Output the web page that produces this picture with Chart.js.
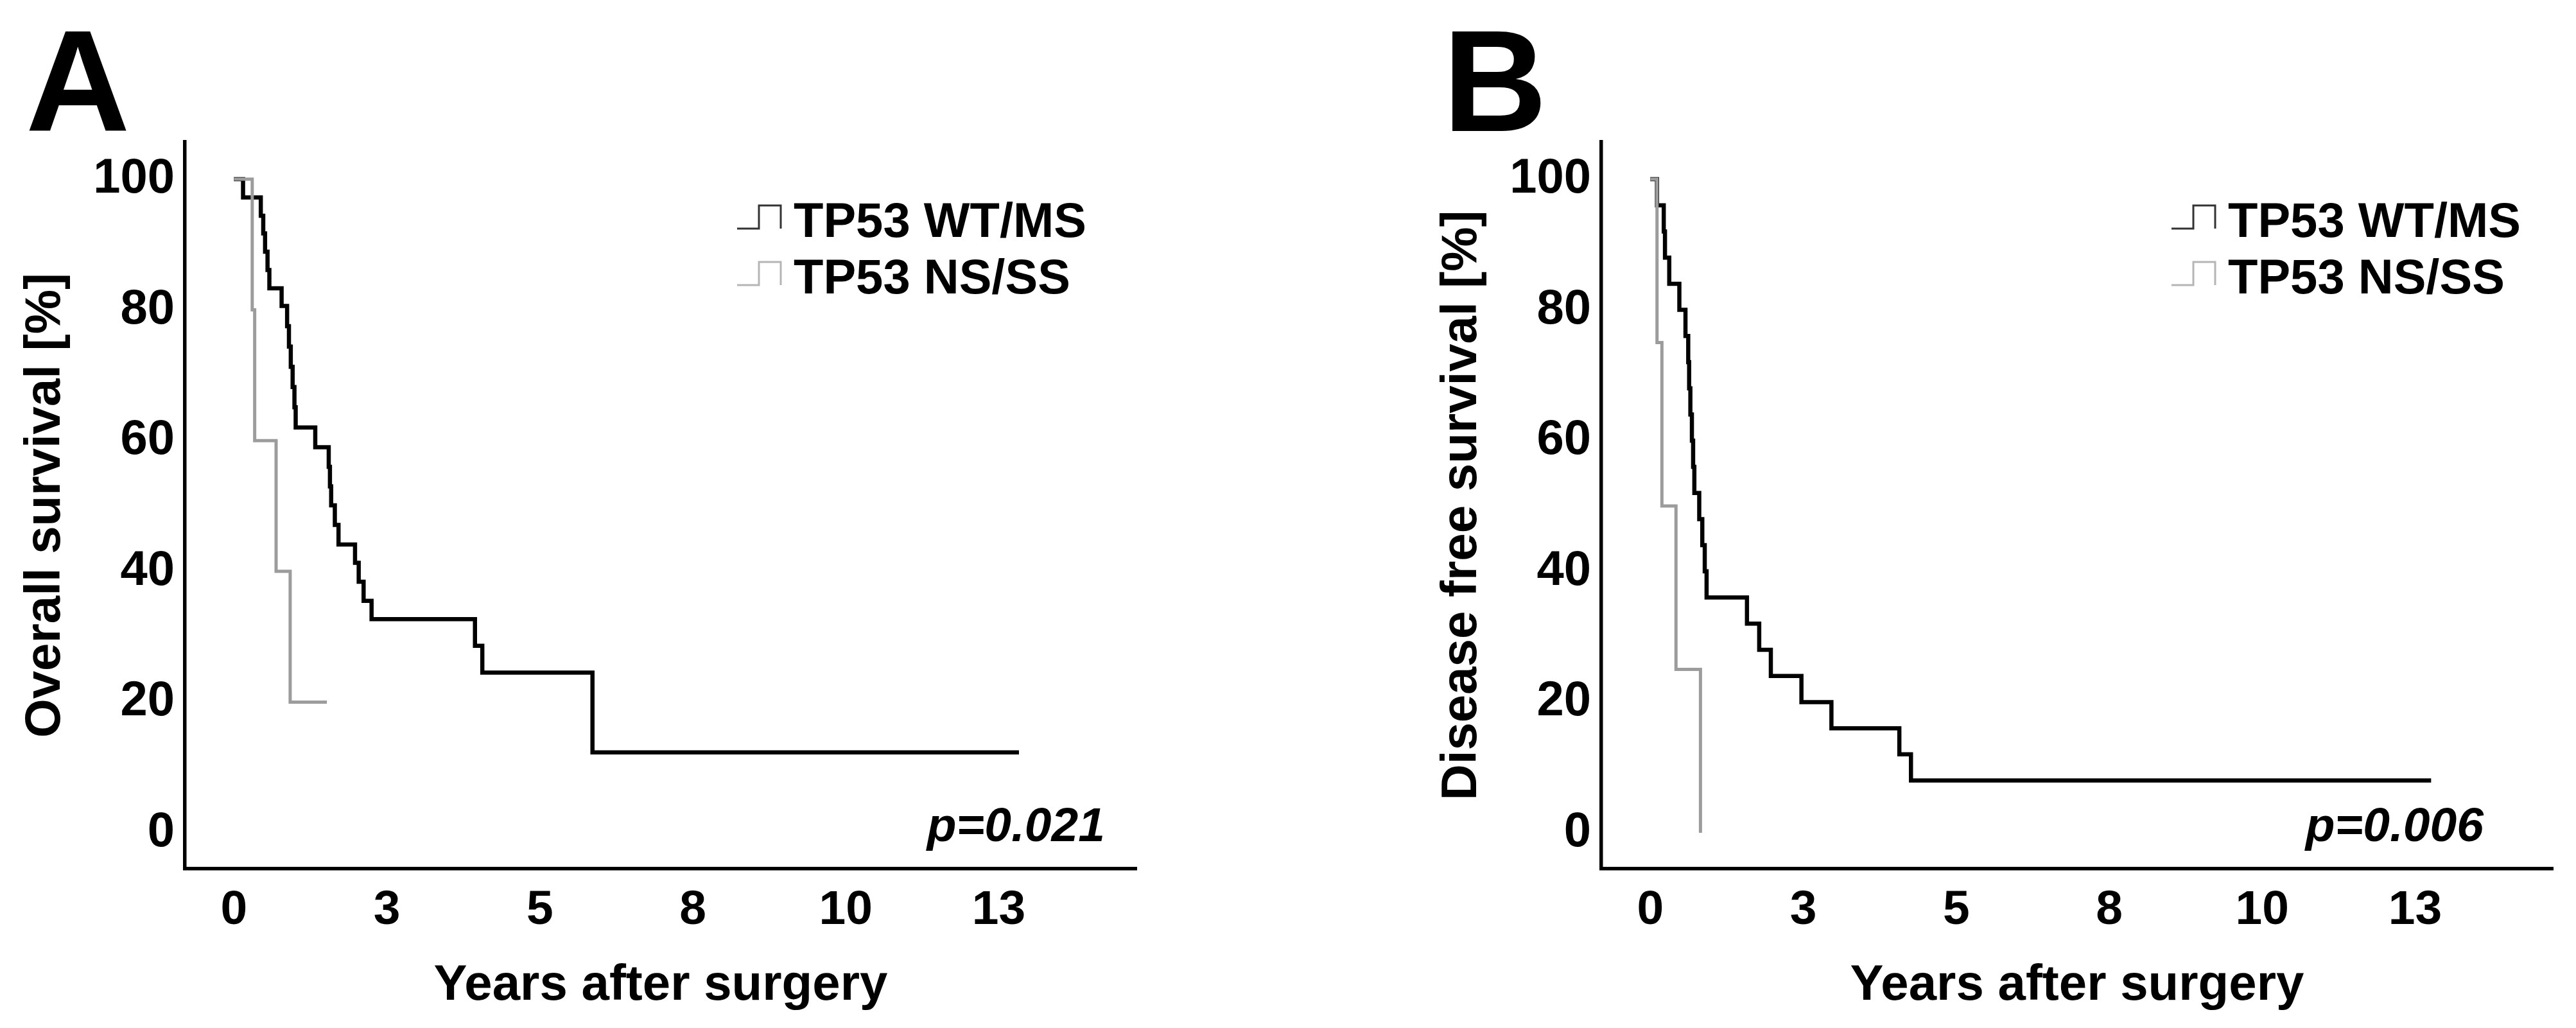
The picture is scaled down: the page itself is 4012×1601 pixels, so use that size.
<!DOCTYPE html>
<html>
<head>
<meta charset="utf-8">
<script src="https://cdn.jsdelivr.net/npm/chart.js@4.4.1/dist/chart.umd.min.js"></script>
<style>
  html, body { margin: 0; padding: 0; background: #fff; }
  body { width: 4012px; height: 1601px; position: relative; overflow: hidden; }
  .panel { position: absolute; top: 0; width: 1806px; height: 1601px; }
  #panelA { left: 0; }
  #panelB { left: 2206px; }
</style>
</head>
<body>
<div class="panel" id="panelA"><canvas id="chartA" width="1806" height="1601"></canvas></div>
<div class="panel" id="panelB"><canvas id="chartB" width="1806" height="1601"></canvas></div>
<script>
// Kaplan-Meier steps (years, % surviving)
const groupLabels = ['TP53 WT/MS', 'TP53 NS/SS'];

// A: overall survival
const osWtTime = [0, 0.15, 0.44, 0.48, 0.51, 0.55, 0.58, 0.78, 0.87, 0.90, 0.93, 0.96, 0.99, 1.01, 1.33, 1.55, 1.57, 1.59, 1.65, 1.71, 1.98, 2.04, 2.12, 2.25, 3.94, 4.06, 5.86, 12.83];
const osWtSurv = [100, 97.2, 94.4, 91.7, 88.9, 86.1, 83.3, 80.6, 77.5, 74.4, 71.3, 68.2, 65.1, 62.0, 59.0, 56.0, 53.0, 50.1, 47.1, 44.1, 41.3, 38.4, 35.5, 32.7, 28.6, 24.5, 12.3, 12.3];
const osNsTime = [0, 0.30, 0.34, 0.69, 0.92, 1.52];
const osNsSurv = [100, 80, 60, 40, 20, 20];

// B: disease free survival
const dfsWtTime = [0, 0.11, 0.22, 0.24, 0.31, 0.475, 0.575, 0.62, 0.635, 0.655, 0.68, 0.70, 0.72, 0.80, 0.85, 0.89, 0.92, 1.58, 1.78, 1.97, 2.47, 2.96, 4.07, 4.26, 12.76];
const dfsWtSurv = [100, 96, 92, 88, 84, 80, 76, 72, 68, 64, 60, 56, 52, 48, 44, 40, 36, 32, 28, 24, 20, 16, 12, 8, 8];
const dfsNsTime = [0, 0.11, 0.19, 0.42, 0.82];
const dfsNsSurv = [100, 75, 50, 25, 0];

// axes
const xTicks = [0, 2.5, 5, 7.5, 10, 12.5];
const xTickLabels = ['0', '3', '5', '8', '10', '13'];
const yTicks = [0, 20, 40, 60, 80, 100];

const FONT = "'Liberation Sans', Arial, sans-serif";

function zip(xs, ys) {
    return xs.map((x, i) => ({ x: x, y: ys[i] }));
}

// panel letter, step-shaped legend and p value
const panelDecor = {
    id: 'panelDecor',
    afterDraw(chart, args, opts) {
        const ctx = chart.ctx;
        ctx.save();
        ctx.fillStyle = '#000';
        ctx.textAlign = 'left';
        ctx.textBaseline = 'alphabetic';

        ctx.font = 'bold 225px ' + FONT;
        ctx.fillText(opts.letter, opts.letterX, 204);

        const rows = [369, 457];
        const symColors = ['#333333', '#b5b5b5'];
        groupLabels.forEach((lab, i) => {
            const base = rows[i];
            const sx = opts.legendX - 88;
            ctx.strokeStyle = symColors[i];
            ctx.lineWidth = 3;
            ctx.beginPath();
            ctx.moveTo(sx, base - 13);
            ctx.lineTo(sx + 34, base - 13);
            ctx.lineTo(sx + 34, base - 49);
            ctx.lineTo(sx + 68, base - 49);
            ctx.lineTo(sx + 68, base - 13);
            ctx.stroke();
            ctx.fillStyle = '#000';
            ctx.font = 'bold 76px ' + FONT;
            ctx.fillText(lab, opts.legendX, base);
        });

        ctx.textAlign = 'right';
        ctx.font = 'italic bold 75px ' + FONT;
        ctx.fillText(opts.pText, opts.pRight, 1310);
        ctx.restore();
    }
};

function makeChart(id, wt, ns, yTitle, decor) {
    return new Chart(document.getElementById(id), {
        type: 'line',
        data: {
            datasets: [
                {
                    label: groupLabels[0],
                    data: zip(wt[0], wt[1]),
                    borderColor: '#000000',
                    borderWidth: 6.5,
                    stepped: 'before',
                    pointRadius: 0,
                    fill: false,
                    order: 1
                },
                {
                    label: groupLabels[1],
                    data: zip(ns[0], ns[1]),
                    borderColor: '#9c9c9c',
                    borderWidth: 5,
                    stepped: 'before',
                    pointRadius: 0,
                    fill: false,
                    order: 0
                }
            ]
        },
        options: {
            responsive: false,
            animation: false,
            devicePixelRatio: 1,
            layout: { padding: { top: 221, right: 36, left: 0, bottom: 0 } },
            plugins: {
                legend: { display: false },
                tooltip: { enabled: false },
                panelDecor: decor
            },
            scales: {
                x: {
                    type: 'linear',
                    min: -0.8,
                    max: 14.75,
                    grid: { display: false, drawTicks: false },
                    border: { display: true, color: '#000', width: 5.5 },
                    afterBuildTicks: s => { s.ticks = xTicks.map(v => ({ value: v })); },
                    afterFit: s => { s.height = 248; },
                    ticks: {
                        autoSkip: false,
                        maxRotation: 0,
                        padding: 20,
                        color: '#000',
                        font: { family: FONT, size: 75, weight: 'bold' },
                        callback: (v, i) => xTickLabels[i]
                    },
                    title: {
                        display: true,
                        text: 'Years after surgery',
                        color: '#000',
                        font: { family: FONT, size: 78, weight: 'bold' },
                        padding: { top: 0, bottom: 19 }
                    }
                },
                y: {
                    type: 'linear',
                    min: -5.5,
                    max: 105.7,
                    grid: { display: false, drawTicks: false },
                    border: { display: true, color: '#000', width: 5.5 },
                    afterBuildTicks: s => { s.ticks = yTicks.map(v => ({ value: v })); },
                    afterFit: s => { s.width = 288; },
                    ticks: {
                        padding: 16,
                        color: '#000',
                        font: { family: FONT, size: 76, weight: 'bold' },
                        callback: v => String(v)
                    },
                    title: {
                        display: true,
                        text: yTitle,
                        color: '#000',
                        font: { family: FONT, size: 78, weight: 'bold' },
                        padding: { top: 25, bottom: 0 }
                    }
                }
            }
        },
        plugins: [panelDecor]
    });
}

makeChart('chartA', [osWtTime, osWtSurv], [osNsTime, osNsSurv], 'Overall survival [%]',
    { letter: 'A', letterX: 40, legendX: 1236, pText: 'p=0.021', pRight: 1721 });
makeChart('chartB', [dfsWtTime, dfsWtSurv], [dfsNsTime, dfsNsSurv], 'Disease free survival [%]',
    { letter: 'B', letterX: 41, legendX: 1264, pText: 'p=0.006', pRight: 1662 });
</script>
</body>
</html>
